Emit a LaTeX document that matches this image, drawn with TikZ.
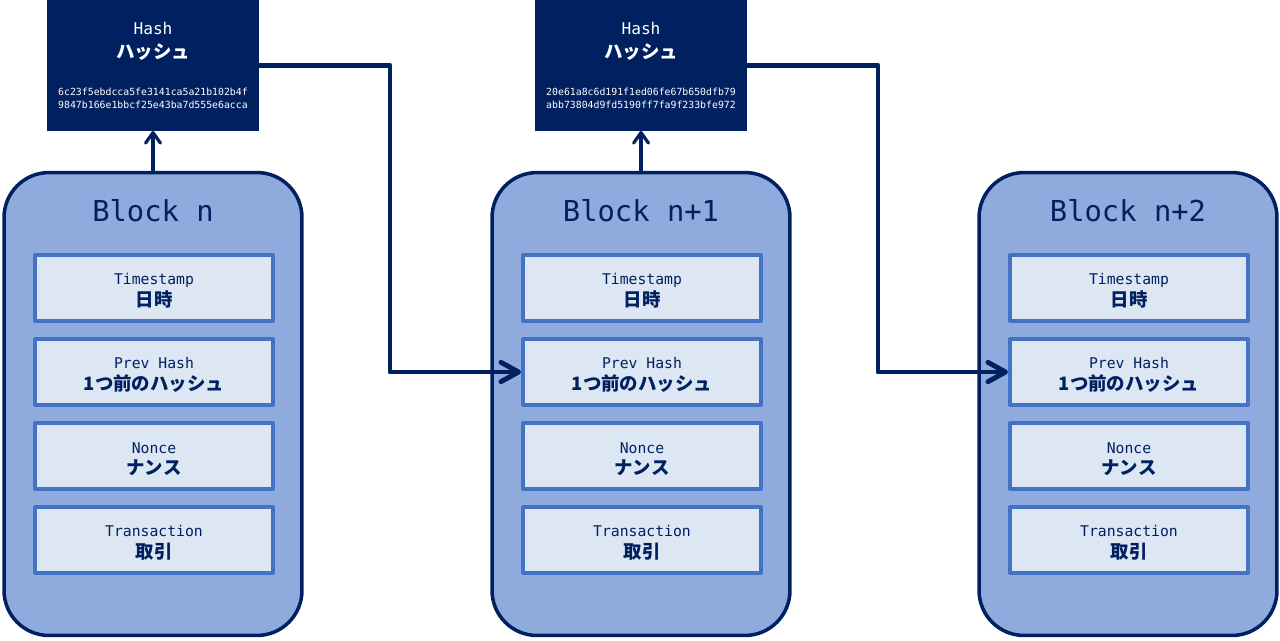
\documentclass[tikz,border=0pt]{standalone}
\usepackage{fontspec}
\setmonofont{DejaVu Sans Mono}
\newfontfamily\jpfont{Noto Sans CJK JP}
\usetikzlibrary{arrows.meta}
\definecolor{navy}{HTML}{002060}
\definecolor{blockfill}{HTML}{8FAADC}
\definecolor{fieldline}{HTML}{4472C4}
\definecolor{fieldfill}{HTML}{DDE7F4}
\newcommand{\jpb}{\jpfont\bfseries\fontsize{10.5}{12.5}\selectfont}
\newcommand{\hexfont}{\ttfamily\mdseries\fontsize{5.6}{7.2}\selectfont}
\begin{document}
\begin{tikzpicture}[x=0.02cm, y=-0.02cm, line join=round, line cap=round, font=\ttfamily,
	blockbox/.style={draw=navy, line width=2pt, fill=blockfill, rounded corners=0.9cm, minimum width=5.96cm, minimum height=9.26cm},
	blocktitle/.style={text=navy, font=\ttfamily\fontsize{16.4}{20}\selectfont},
	fieldbox/.style={draw=fieldline, line width=2.3pt, fill=fieldfill, minimum width=4.76cm, minimum height=1.32cm, inner sep=0pt, align=center, text=navy, font=\ttfamily\fontsize{8.4}{12.5}\selectfont},
	hashbox/.style={fill=navy, text=white, minimum width=4.24cm, minimum height=2.62cm, inner sep=0pt, outer sep=0pt, align=center, font=\ttfamily\fontsize{9.2}{13.6}\selectfont},
	uplink/.style={draw=navy, line width=1.8pt, -{Straight Barb[round,length=6pt,width=8.5pt]}},
	hashlink/.style={draw=navy, line width=2.8pt, -{Straight Barb[round,length=10pt,width=11pt]}}]
	\useasboundingbox (0,0) rectangle (1280,640);
	% blocks
	\foreach \i/\cx/\name in {0/153/n,1/641/n+1,2/1128/n+2}{
		\node[blockbox] (B\i) at (\cx,404) {};
		\node[blocktitle] (T\i) at (\cx,211) {Block \name};
		\foreach \j/\y/\en/\ja in {ts/288/Timestamp/日時,ph/372/Prev Hash/1つ前のハッシュ,nc/456/Nonce/ナンス,tx/540/Transaction/取引}{
			\node[fieldbox] (B\i-\j) at (\cx+1,\y) {\rule{0pt}{9.8pt}\en\\{\jpb \ja}};
		}
	}
	% hashes
	\foreach \i/\k/\cx/\ha/\hb in {0/1/153/6c23f5ebdcca5fe3141ca5a21b102b4f/9847b166e1bbcf25e43ba7d555e6acca,
		1/2/641/20e61a8c6d191f1ed06fe67b650dfb79/abb73804d9fd5190ff7fa9f233bfe972}{
		\node[hashbox] (H\i) at (\cx,65.5) {Hash\\{\jpb ハッシュ}\\[7.4pt]{\hexfont \ha}\\[-6.4pt]{\hexfont \hb}};
		\draw[uplink] (B\i.north)--(H\i.south);
		\draw[hashlink] (H\i.east)--++(131,0) |- (B\k-ph.west);
	}
\end{tikzpicture}
\end{document}
